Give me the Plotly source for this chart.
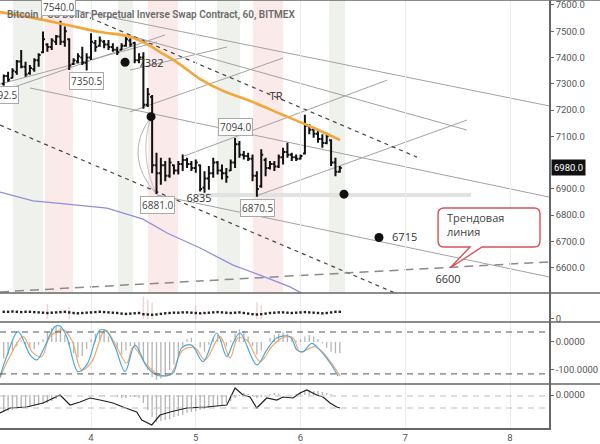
import plotly.graph_objects as go
from plotly.subplots import make_subplots

# ---------------- data ----------------
title_text = "Bitcoin / US Dollar Perpetual Inverse Swap Contract, 60, BITMEX"
day_ticks = [4, 5, 6, 7, 8]
price_ticks = [6600, 6700, 6800, 6900, 7100, 7200, 7300, 7400, 7500, 7600]
first_hour = 76  # bars are hourly, x in days = hour / 24

bar_open = [7300, 7330, 7322, 7345, 7385, 7365, 7340, 7355, 7390, 7420,
            7450, 7440, 7460, 7480, 7460, 7470, 7375, 7385, 7400, 7380,
            7400, 7455, 7445, 7460, 7450, 7440, 7430, 7430, 7445, 7465,
            7455, 7390, 7400, 7220, 7250, 6990, 6960, 6990, 6950, 6990,
            6970, 6995, 7010, 6995, 6980, 6990, 6905, 6940, 6960, 7000,
            6970, 6960, 6970, 7000, 7070, 7030, 7025, 7015, 6950, 6910,
            7010, 6980, 6995, 6985, 7020, 7040, 7030, 7020, 7015, 7035,
            7140, 7125, 7110, 7090, 7075, 7085, 7000, 6965]
bar_high = [7335, 7346, 7359, 7391, 7429, 7384, 7372, 7397, 7416, 7499,
            7454, 7473, 7486, 7540, 7518, 7473, 7397, 7416, 7441, 7416,
            7492, 7467, 7480, 7467, 7467, 7454, 7441, 7454, 7486, 7473,
            7460, 7416, 7420, 7284, 7257, 7038, 7019, 7006, 7019, 6993,
            7006, 7031, 7019, 7006, 7012, 6993, 6967, 6987, 7019, 7006,
            6993, 6980, 7012, 7094, 7082, 7044, 7038, 7031, 6967, 7051,
            7019, 7006, 7006, 7031, 7057, 7076, 7038, 7031, 7031, 7182,
            7146, 7134, 7121, 7108, 7114, 7089, 7019, 6987]
bar_low = [7292.5, 7308, 7321, 7334, 7359, 7327, 7334, 7346, 7365, 7416,
           7422, 7429, 7448, 7448, 7441, 7353, 7372, 7378, 7372, 7350.5,
           7391, 7422, 7441, 7435, 7429, 7422, 7410, 7429, 7441, 7441,
           7378, 7378, 7205, 7212, 6960, 6881, 6916, 6929, 6942, 6955,
           6955, 6968, 6980, 6968, 6961, 6890, 6885, 6897, 6942, 6955,
           6936, 6923, 6968, 6980, 7019, 7012, 7006, 6929, 6870.5, 6904,
           6948, 6974, 6968, 6980, 6993, 7019, 7006, 7006, 7012, 7031,
           7108, 7095, 7076, 7057, 7070, 6987, 6948, 6961]
bar_close = [7330, 7315, 7350, 7385, 7365, 7335, 7360, 7390, 7410, 7470,
             7440, 7465, 7480, 7460, 7500, 7370, 7390, 7405, 7380, 7400,
             7460, 7440, 7465, 7450, 7440, 7430, 7420, 7445, 7470, 7450,
             7390, 7400, 7220, 7260, 6990, 6960, 6990, 6950, 7000, 6970,
             6995, 7010, 6995, 6980, 7000, 6900, 6940, 6960, 7000, 6970,
             6960, 6945, 7000, 7070, 7030, 7025, 7015, 6950, 6900, 7030,
             6980, 6995, 6985, 7020, 7040, 7030, 7020, 7015, 7025, 7140,
             7125, 7110, 7090, 7075, 7100, 7000, 6965, 6980]
last_price = 6980.0

# moving averages (day, price)
ma_orange_d = [3.131, 3.446, 3.771, 4.086, 4.344, 4.516, 4.659, 4.831, 5.041, 5.260, 5.518, 5.833, 6.062, 6.377]
ma_orange_p = [7573, 7551, 7524, 7497, 7482, 7455, 7421, 7379, 7318, 7273, 7235, 7181, 7143, 7086]
ma_purple_d = [3.131, 3.446, 3.675, 4.153, 4.496, 4.726, 5.041, 5.356, 5.613, 5.900, 6.043]
ma_purple_p = [6888, 6854, 6846, 6827, 6785, 6732, 6675, 6610, 6572, 6527, 6496]

# trend lines (d0, p0, d1, p1)
solid_lines = [
    (3.704, 7592, 8.372, 7216),
    (4.344, 7486, 7.589, 7124),
    (4.372, 7193, 5.833, 7398),
    (4.888, 7025, 6.826, 7314),
    (5.575, 6873, 7.589, 7162),
    (3.418, 7284, 8.372, 6869),
    (4.630, 6877, 8.372, 6565),
    (3.131, 7269, 4.706, 7486),
    (3.131, 7299, 4.630, 7459),
    (4.372, 7352, 5.298, 7440),
]
dashed_lines = [
    (3.990, 7551, 7.112, 7021),
    (3.131, 7143, 6.902, 6504),
]
long_dash_line = (3.131, 6508, 8.372, 6622)
support_band = (5.021, 7.628, 6877)

green_bands = [(3.255, 3.542), (4.258, 4.401), (5.203, 5.422), (6.272, 6.425)]
pink_bands = [(3.561, 3.828), (4.544, 4.831), (5.547, 5.833)]

dot_d = [4.325, 4.573, 6.415, 6.749]
dot_p = [7382, 7175, 6880, 6715]

boxed_labels = [("7540.0", 3.685, 7592), ("7292.5", 3.141, 7257), ("7350.5", 3.952, 7311),
                ("6881.0", 4.630, 6839), ("6870.5", 5.585, 6827), ("7094.0", 5.375, 7136)]
plain_labels = [("7382", 4.573, 7375), ("6835", 5.031, 6862), ("TR", 5.766, 7250),
                ("6600", 7.408, 6553)]
label_6715 = ("6715", 6.874, 6713)
callout_text = "Трендовая<br>линия"

# pane 2 (dots + faint volume)
p2_dots = [2.4, 2.4, 2.5, 2.4, 2.3, 2.4, 2.4, 2.3, 2.2, 2.1,
           2.0, 2.1, 2.2, 2.3, 2.4, 2.2, 2.0, 1.9, 2.0, 2.1,
           2.2, 2.3, 2.4, 2.3, 2.2, 2.1, 2.0, 1.8, 1.7, 1.8,
           1.9, 2.0, 1.6, 1.5, 1.4, 1.5, 1.7, 1.9, 2.0, 2.1,
           2.1, 2.2, 2.2, 2.1, 2.0, 1.9, 2.0, 2.1, 2.2, 2.3,
           2.2, 2.1, 2.0, 2.1, 2.2, 2.0, 1.8, 1.6, 1.5, 1.6,
           1.8, 2.0, 2.1, 2.2, 2.2, 2.1, 2.0, 2.1, 2.2, 2.3,
           2.2, 2.1, 2.0, 1.9, 2.0, 2.2, 2.4, 2.4]
p2_vol_hours = [86, 91, 108, 109, 110, 120, 134, 135]
p2_vol_vals = [5, 4, 7.5, 6.5, 5.5, 4.5, 5.5, 4.5]

# pane 3 (stochastic)
stoch_hist = [-60, -45, -30, -15, 5, -10, -20, -25, -10, 10,
              35, 50, 55, 50, 25, -10, -40, -55, -50, -25,
              10, 30, 35, 35, 20, 0, -25, -45, -30, -15,
              -20, -40, -70, -100, -125, -135, -130, -120, -100, -80,
              -50, -20, 10, 15, 0, -20, -35, -10, 15, 25,
              10, -15, 5, 30, 45, 40, 20, -15, -45, -30,
              0, 15, 25, 30, 35, 30, 20, 5, 10, 20,
              25, 20, 10, -5, -20, -35, -40, -40]
blue_d = [3.131, 3.195, 3.303, 3.418, 3.482, 3.542, 3.656, 3.704, 3.768, 3.876,
          3.959, 4.086, 4.150, 4.229, 4.325, 4.420, 4.532, 4.627, 4.687, 4.783,
          4.866, 4.961, 5.069, 5.200, 5.295, 5.356, 5.422, 5.582, 5.677, 5.773,
          5.900, 5.967, 6.024, 6.107, 6.186, 6.282, 6.358]
blue_v = [-124, -52, 37, -46, -64, -29, 55, 57, 19, -106,
          -82, 43, 37, -17, -106, -11, -88, -118, -121, -111,
          -21, -11, -70, 32, -52, -4, 32, -82, -29, 14,
          19, -29, -35, -5, -29, -75, -121]
orange_d = [3.131, 3.227, 3.351, 3.446, 3.529, 3.609, 3.733, 3.816, 3.911, 4.007,
            4.134, 4.210, 4.341, 4.401, 4.532, 4.659, 4.754, 4.878, 4.993, 5.088,
            5.232, 5.327, 5.403, 5.486, 5.613, 5.725, 5.821, 5.928, 5.995, 6.138,
            6.234, 6.377]
orange_v = [-129, -50, 19, -39, -52, 19, 43, 7, -100, -70,
            43, 7, -75, -17, -82, -118, -118, -29, -21, -64,
            19, -57, 14, 7, -70, -17, 14, 14, -35, -17,
            -46, -121]
stoch_levels = [35.7, -114]

# pane 4 (momentum)
mom_hist = [-17, -16, -15, -14, -13, -13, -12, -11, -10, -9,
            -8, -6, -4, -2, -1, 0, 0, 0, 0, 0,
            0, 0, -1, -1, 0, 0, -2, -3, -3, -2,
            -2, -3, -8, -15, -22, -27, -26, -25, -24, -22,
            -21, -20, -18, -17, -16, -15, -14, -13, -12, -11,
            -10, -8, -6, -3, -1, 2, 1, -1, -3, -2,
            0, 1, 2, 1, 0, 0, 0, 1, 3, 5,
            5, 4, 4, 3, 2, 1, 0, 0]
mom_d = [3.131, 3.227, 3.386, 3.542, 3.704, 3.800, 3.895, 3.990, 4.086, 4.210,
         4.305, 4.436, 4.484, 4.580, 4.659, 4.754, 4.914, 5.105, 5.296, 5.375,
         5.451, 5.518, 5.582, 5.677, 5.773, 5.833, 5.928, 5.995, 6.059, 6.155,
         6.215, 6.282, 6.346, 6.377]
mom_v = [-18, -13, -12, -8, 0, -10, -7, -3, -5, -8,
         -12, -17, -25, -30, -20, -17, -13, -12, -10, 7,
         0, -2, -13, -3, -5, -2, -3, 2, 5, 0,
         -2, -8, -12, -13]
mom_levels = [-1, -13]

# ---------------- figure ----------------
bar_d = [(first_hour + i) / 24 for i in range(len(bar_open))]
XR = [3.131, 8.372]

fig = make_subplots(rows=4, cols=1, shared_xaxes=True, vertical_spacing=0,
                    row_heights=[293, 29, 62, 44])

# pane 1
fig.add_trace(go.Scatter(x=ma_purple_d, y=ma_purple_p, mode="lines",
                         line=dict(color="#8f8fdc", width=1.3), hoverinfo="skip"), row=1, col=1)
fig.add_trace(go.Scatter(x=ma_orange_d, y=ma_orange_p, mode="lines", line_shape="spline",
                         line=dict(color="#f3a63a", width=2.6), hoverinfo="skip"), row=1, col=1)
fig.add_trace(go.Scatter(x=[l[1] for l in plain_labels], y=[l[2] for l in plain_labels],
                         text=[l[0] for l in plain_labels], mode="text",
                         textfont=dict(family="Open Sans", size=11, color="#333"),
                         hoverinfo="skip", cliponaxis=False), row=1, col=1)
fig.add_trace(go.Ohlc(x=bar_d, open=bar_open, high=bar_high, low=bar_low, close=bar_close,
                      increasing=dict(line=dict(color="#111", width=2)),
                      decreasing=dict(line=dict(color="#111", width=2)),
                      tickwidth=0.45, hoverinfo="skip"), row=1, col=1)
fig.add_trace(go.Scatter(x=dot_d, y=dot_p, mode="markers",
                         marker=dict(color="#111", size=9), hoverinfo="skip"), row=1, col=1)
fig.add_trace(go.Scatter(x=[label_6715[1]], y=[label_6715[2]], text=[label_6715[0]],
                         mode="text", textposition="middle right",
                         textfont=dict(family="Open Sans", size=11, color="#333"),
                         hoverinfo="skip"), row=1, col=1)

# pane 2
fig.add_trace(go.Bar(x=[h / 24 for h in p2_vol_hours], y=p2_vol_vals, width=0.35 / 24,
                     marker=dict(color="rgba(225,180,180,0.55)", line_width=0),
                     hoverinfo="skip"), row=2, col=1)
fig.add_trace(go.Scatter(x=bar_d, y=p2_dots, mode="markers",
                         marker=dict(color="#222", size=2.4, symbol="square"),
                         hoverinfo="skip"), row=2, col=1)

# pane 3
fig.add_trace(go.Bar(x=bar_d, y=stoch_hist, width=0.3 / 24,
                     marker=dict(color="rgba(120,120,120,0.55)", line_width=0),
                     hoverinfo="skip"), row=3, col=1)
fig.add_trace(go.Scatter(x=orange_d, y=orange_v, mode="lines", line_shape="spline",
                         line=dict(color="#f4a766", width=1.2), hoverinfo="skip"), row=3, col=1)
fig.add_trace(go.Scatter(x=blue_d, y=blue_v, mode="lines", line_shape="spline",
                         line=dict(color="#4aa8e0", width=1.2), hoverinfo="skip"), row=3, col=1)

# pane 4
fig.add_trace(go.Bar(x=bar_d, y=mom_hist, width=0.3 / 24,
                     marker=dict(color="rgba(120,120,120,0.55)", line_width=0),
                     hoverinfo="skip"), row=4, col=1)
fig.add_trace(go.Scatter(x=mom_d, y=mom_v, mode="lines",
                         line=dict(color="#222", width=1.2), hoverinfo="skip"), row=4, col=1)

shapes = []
for a, b in green_bands:
    shapes.append(dict(type="rect", xref="x", yref="y domain", x0=a, x1=b, y0=0, y1=1,
                       fillcolor="#eff1ec", line_width=0, layer="below"))
for a, b in pink_bands:
    shapes.append(dict(type="rect", xref="x", yref="y domain", x0=a, x1=b, y0=0, y1=1,
                       fillcolor="#fbeaea", line_width=0, layer="below"))
shapes.append(dict(type="line", xref="x", yref="y", x0=support_band[0], x1=support_band[1],
                   y0=support_band[2], y1=support_band[2],
                   line=dict(color="#e2e2e2", width=4), layer="below"))
for (x0, y0, x1, y1) in solid_lines:
    shapes.append(dict(type="line", xref="x", yref="y", x0=x0, y0=y0, x1=x1, y1=y1,
                       line=dict(color="#a2a2a2", width=1), layer="below"))
for (x0, y0, x1, y1) in dashed_lines:
    shapes.append(dict(type="line", xref="x", yref="y", x0=x0, y0=y0, x1=x1, y1=y1,
                       line=dict(color="#444", width=1.2, dash="4px,4px"), layer="below"))
x0, y0, x1, y1 = long_dash_line
shapes.append(dict(type="line", xref="x", yref="y", x0=x0, y0=y0, x1=x1, y1=y1,
                   line=dict(color="#8a8a8a", width=1.5, dash="9px,6px"), layer="below"))
# arcs near the sell-off
shapes.append(dict(type="path", xref="x", yref="y",
                   path="M 4.573,7174 Q 4.296,7025 4.630,6877",
                   line=dict(color="#b4b4b4", width=1), layer="below"))
shapes.append(dict(type="path", xref="x", yref="y",
                   path="M 4.573,7174 Q 4.449,7025 4.630,6877",
                   line=dict(color="#c4c4c4", width=1), layer="below"))
# callout
shapes.append(dict(type="path", xref="x", yref="y",
                   path=("M 7.370,6827 L 8.229,6827 Q 8.286,6827 8.286,6804 L 8.286,6702 "
                         "Q 8.286,6679 8.229,6679 L 7.733,6679 L 7.427,6599 L 7.618,6679 "
                         "L 7.370,6679 Q 7.313,6679 7.313,6702 L 7.313,6804 Q 7.313,6827 7.370,6827 Z"),
                   fillcolor="white", line=dict(color="#d9505a", width=1.4), layer="above"))
# pane 3 / 4 levels
for lv in stoch_levels:
    shapes.append(dict(type="line", xref="paper", yref="y3", x0=0, x1=1, y0=lv, y1=lv,
                       line=dict(color="#555", width=1, dash="6px,5px"), layer="above"))
for lv in mom_levels:
    shapes.append(dict(type="line", xref="paper", yref="y4", x0=0, x1=1, y0=lv, y1=lv,
                       line=dict(color="#bdbdbd", width=1, dash="6px,5px"), layer="above"))
# pane separators
for yy in [1.0, 0.3154, 0.2477, 0.1028]:
    shapes.append(dict(type="line", xref="paper", yref="paper", x0=0, x1=600 / 549,
                       y0=yy, y1=yy, line=dict(color="#666", width=1.6), layer="above"))

annotations = []
annotations.append(dict(xref="paper", yref="paper", x=0.009, y=0.965, xanchor="left",
                        yanchor="middle", text=title_text, showarrow=False,
                        font=dict(family="Roboto", size=10, color="#6b6b6b", weight=600)))
for t, xd, yp in boxed_labels:
    annotations.append(dict(xref="x", yref="y", x=xd, y=yp, text=t, showarrow=False,
                            bgcolor="white", bordercolor="#aaa", borderwidth=1, borderpad=1,
                            font=dict(family="Open Sans", size=10, color="#444")))
annotations.append(dict(xref="x", yref="y", x=7.380, y=6763, xanchor="left", align="left",
                        text=callout_text, showarrow=False,
                        font=dict(family="Open Sans", size=11, color="#444")))
annotations.append(dict(xref="paper", yref="y", x=1, xanchor="left", xshift=2, y=last_price,
                        text="%.1f" % last_price, showarrow=False, bgcolor="#111", borderpad=2,
                        font=dict(family="Roboto", size=9.5, color="white")))

fig.update_layout(width=600, height=444, margin=dict(l=0, r=51, t=0, b=16, autoexpand=False),
                  paper_bgcolor="white", plot_bgcolor="white", showlegend=False,
                  hovermode=False, shapes=shapes, annotations=annotations, barmode="overlay")

axfont = dict(family="Roboto", size=9.5, color="#555")
fig.update_xaxes(range=XR, tickvals=day_ticks, ticktext=[str(d) for d in day_ticks],
                 showgrid=True, gridcolor="#ececec", zeroline=False, rangeslider_visible=False,
                 tickfont=axfont, ticks="", automargin=False, ticklabeloverflow="allow")
fig.update_xaxes(showline=True, linecolor="#666", linewidth=1.5, row=4, col=1)
fig.update_yaxes(side="right", showgrid=False, zeroline=False, showline=True,
                 linecolor="#666", linewidth=1.5, ticks="outside", ticklen=3,
                 tickcolor="#666", tickfont=axfont, automargin=False, ticklabeloverflow="allow")
fig.update_layout(
    yaxis=dict(domain=[0.3154, 1.0], range=[6503.7, 7619], tickvals=price_ticks,
               ticktext=["%.1f" % v for v in price_ticks]),
    yaxis2=dict(domain=[0.2477, 0.3154], range=[-1, 8.67], tickvals=[0], ticktext=["0"]),
    yaxis3=dict(domain=[0.1028, 0.2477], range=[-150, 71.4], tickvals=[0, -100],
                ticktext=["0.0000", "-100.0000"]),
    yaxis4=dict(domain=[0, 0.1028], range=[-33, 11], tickvals=[0], ticktext=["0.0000"]),
)

fig.write_html("out.html", config={"displayModeBar": False},
               post_script="document.body.style.margin='0px';")
